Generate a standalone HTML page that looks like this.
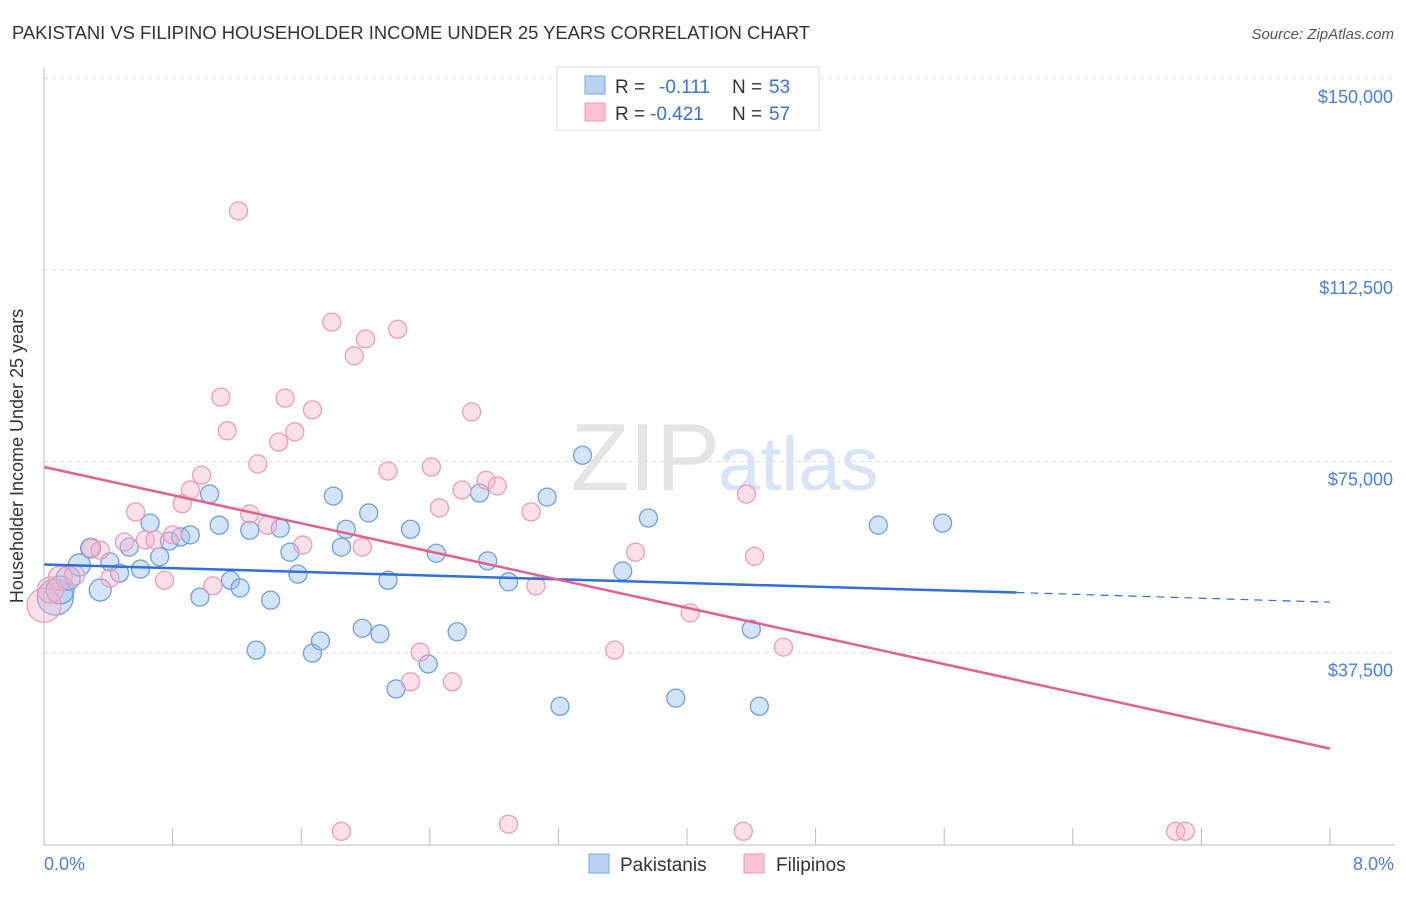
<!DOCTYPE html>
<html><head><meta charset="utf-8"><style>
body{margin:0;background:#fff;font-family:"Liberation Sans",sans-serif;}
svg text{font-family:"Liberation Sans",sans-serif;}
</style></head><body>
<svg id="c" width="1406" height="892" xmlns="http://www.w3.org/2000/svg">
<text x="12" y="39" font-size="18" fill="#333" textLength="798" lengthAdjust="spacingAndGlyphs">PAKISTANI VS FILIPINO HOUSEHOLDER INCOME UNDER 25 YEARS CORRELATION CHART</text>
<text x="1394" y="39" font-size="15" fill="#555" font-style="italic" text-anchor="end">Source: ZipAtlas.com</text>
<text x="720" y="490" font-size="96" fill="#e4e4e4" text-anchor="end" font-family="Liberation Serif">ZIP</text>
<text x="718" y="490" font-size="76" fill="#d6e4f6">atlas</text>
<g id="grid"></g><g id="pts"></g><g id="lines"></g>
<line x1="44" y1="68" x2="44" y2="845" stroke="#bbb"/>
<line x1="44" y1="845" x2="1395" y2="845" stroke="#bbb"/>
<text x="23" y="456" font-size="18" fill="#333" text-anchor="middle" transform="rotate(-90 23 456)">Householder Income Under 25 years</text>
<text x="44" y="870" font-size="18" fill="#4a7fd6">0.0%</text>
<text x="1394" y="870" font-size="18" fill="#4a7fd6" text-anchor="end">8.0%</text>
<g>
<rect x="557" y="67" width="262" height="63" fill="#fff" stroke="#ddd"/>
<rect x="585" y="76" width="20" height="18" fill="#b8d2f4" stroke="#7aa6e4"/>
<rect x="585" y="103" width="20" height="18" fill="#f8c4d4" stroke="#eb98b6"/>
<text x="615" y="93" font-size="19" fill="#333">R =</text><text x="659" y="93" font-size="19" fill="#3b72d0">-0.111</text>
<text x="732" y="93" font-size="19" fill="#333">N =</text><text x="769" y="93" font-size="19" fill="#3b72d0">53</text>
<text x="615" y="120" font-size="19" fill="#333">R =</text><text x="650" y="120" font-size="19" fill="#3b72d0">-0.421</text>
<text x="732" y="120" font-size="19" fill="#333">N =</text><text x="769" y="120" font-size="19" fill="#3b72d0">57</text>
</g>
<g>
<rect x="589" y="854" width="20" height="19" fill="#b8d2f4" stroke="#7aa6e4"/>
<text x="620" y="871" font-size="19" fill="#333">Pakistanis</text>
<rect x="744" y="854" width="20" height="19" fill="#f8c4d4" stroke="#eb98b6"/>
<text x="776" y="871" font-size="19" fill="#333">Filipinos</text>
</g>
</svg>
<script>
const yTicks=[37500,75000,112500,150000];
const yTickLabels=["$37,500","$75,000","$112,500","$150,000"];
const xTicks=[0,0.8,1.6,2.4,3.2,4.0,4.8,5.6,6.4,7.2,8.0];
const blueX=[0.07,0.10,0.15,0.22,0.29,0.35,0.41,0.47,0.53,0.60,0.66,0.72,0.78,0.85,0.91,0.97,1.03,1.09,1.16,1.22,1.28,1.32,1.41,1.47,1.53,1.58,1.67,1.72,1.80,1.85,1.88,1.98,2.02,2.09,2.14,2.19,2.28,2.39,2.44,2.57,2.71,2.76,2.89,3.13,3.21,3.60,3.76,3.93,4.40,4.45,5.19,5.59,3.35];
const blueY=[48400,49800,52100,54700,58000,49800,55300,53100,58200,53900,62900,56300,59400,60200,60600,48400,68600,62500,51700,50200,61500,38000,47800,61900,57200,52900,37400,39800,68200,58200,61700,42300,64900,41200,51700,30400,61700,35300,57000,41600,68800,55500,51400,68000,27000,53500,63900,28600,42100,27000,62500,62900,76200];
const blueR=[18,14,12,11,10,11,9,9,9,9,9,9,9,9,9,9,9,9,9,9,9,9,9,9,9,9,9,9,9,9,9,9,9,9,9,9,9,9,9,9,9,9,9,9,9,9,9,9,9,9,9,9,9];
const pinkX=[0.0,0.04,0.10,0.19,0.29,0.35,0.41,0.50,0.57,0.63,0.69,0.75,0.80,0.86,0.91,0.98,1.05,1.10,1.14,1.21,1.28,1.33,1.39,1.46,1.50,1.56,1.61,1.67,1.79,1.85,1.93,1.98,2.00,2.14,2.20,2.28,2.34,2.41,2.46,2.54,2.60,2.66,2.75,2.82,2.89,3.03,3.06,3.55,3.68,4.02,4.35,4.37,4.42,4.60,7.04,7.10];
const pinkY=[46800,49800,52100,52700,58000,57600,52100,59200,65100,59600,59600,51700,60600,66700,69400,72300,50600,87600,81000,124100,64700,74500,62500,78800,87400,80800,58600,85100,102300,2500,95700,58200,99000,73100,100900,31800,37600,73900,65900,31800,69400,84700,71300,70200,3900,65100,50600,38000,57200,45300,2500,68600,56400,38600,2500,2500];
const pinkR=[17,13,12,10,9,9,9,9,9,9,9,9,9,9,9,9,9,9,9,9,9,9,9,9,9,9,9,9,9,9,9,9,9,9,9,9,9,9,9,9,9,9,9,9,9,9,9,9,9,9,9,9,9,9,9,9];
const blueLine=[[0,54800],[6.05,49300],[8.0,47400]];
const pinkLine=[[0,73900],[8.0,18700]];
const NS="http://www.w3.org/2000/svg";
const xs=v=>44+v/8*1286, ys=v=>844-v/37500*191.3;
function mk(t,a,p){const e=document.createElementNS(NS,t);for(const k in a)e.setAttribute(k,a[k]);p.appendChild(e);return e;}
const g=document.getElementById('grid');
yTicks.forEach((t,i)=>{
 const l=mk('line',{x1:44,x2:1395,y1:ys(t),y2:ys(t),stroke:'#ddd','stroke-dasharray':'4,4'},g);
 
 
 const tx=mk('text',{x:1393,y:ys(t)+24,'font-size':18,fill:'#4a7fd6','text-anchor':'end'},g);
 tx.textContent=yTickLabels[i];
 
 
});
xTicks.forEach(t=>{
 const l=mk('line',{x1:xs(t),x2:xs(t),y1:828,y2:845,stroke:'#bbb'},g);
 
 
});
const p=document.getElementById('pts');
blueX.forEach((x,i)=>{
 const c=mk('circle',{cx:xs(x),cy:ys(blueY[i]),r:blueR[i],fill:'rgba(160,196,240,0.45)',stroke:'#6f9fe0','stroke-width':1.3},p);
 
 
});
pinkX.forEach((x,i)=>{
 const c=mk('circle',{cx:xs(x),cy:ys(pinkY[i]),r:pinkR[i],fill:'rgba(246,178,202,0.4)',stroke:'#ec9cba','stroke-width':1.3},p);
 
 
});
const L=document.getElementById('lines');
let b1=mk('line',{x1:xs(blueLine[0][0]),y1:ys(blueLine[0][1]),x2:xs(blueLine[1][0]),y2:ys(blueLine[1][1]),stroke:'#2f6fd6','stroke-width':2.5},L);


let b2=mk('line',{x1:xs(blueLine[1][0]),y1:ys(blueLine[1][1]),x2:xs(blueLine[2][0]),y2:ys(blueLine[2][1]),stroke:'#2f6fd6','stroke-width':1.2,'stroke-dasharray':'8,6'},L);


let pl=mk('line',{x1:xs(pinkLine[0][0]),y1:ys(pinkLine[0][1]),x2:xs(pinkLine[1][0]),y2:ys(pinkLine[1][1]),stroke:'#e2608e','stroke-width':2.5},L);


</script>
</body></html>
